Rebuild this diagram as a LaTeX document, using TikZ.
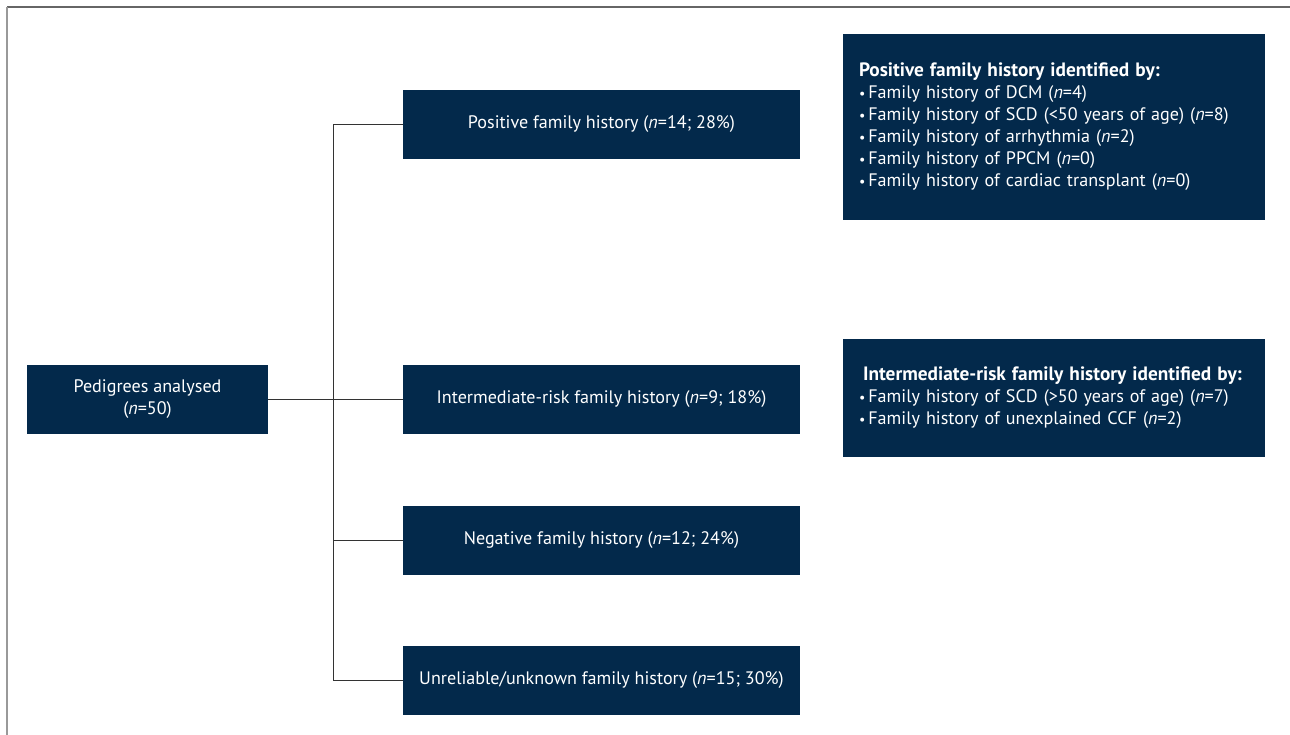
\documentclass[tikz,border=0pt]{standalone}
\usepackage{fontspec}
\setmainfont{PT Sans}
\usepackage{tikz}
\definecolor{navy}{RGB}{3,41,75}
\definecolor{linegray}{RGB}{51,51,51}
\tikzstyle{box}=[fill=navy, text=white, minimum width=7.94cm, minimum height=1.38cm, inner sep=0pt, font=\fontsize{10.3}{12.5}\selectfont]
\tikzstyle{box-start}=[box, minimum width=4.82cm, align=center]
\tikzstyle{box-info}=[fill=navy, text=white, minimum width=8.44cm, text width=7.8cm, align=left, inner xsep=0.32cm, inner ysep=0pt, font=\fontsize{10.3}{12.5}\selectfont]
\tikzstyle{link}=[draw=linegray, line width=0.8pt]
\newcommand{\infohead}[1]{{\fontsize{11}{12.5}\selectfont\textbf{#1}}}
\newcommand{\dotitem}{{\footnotesize\textbullet}\,}

\begin{document}
\begin{tikzpicture}
	 \useasboundingbox (0,0) rectangle (25.8,-14.7);
	 % frame
	 \draw [gray!80!black, line width=0.9pt] (0.14,-0.14) -- (25.8,-0.14);
	 \draw [gray!80, line width=0.9pt] (0.14,-0.14) -- (0.14,-14.7);

	% nodes
	 \node [box-start] (ped) at (2.95,-7.99) {Pedigrees analysed\\(\textit{n}=50)};
	 \node [box] (pos) at (12.03,-2.49) {Positive family history (\textit{n}=14; 28\%)};
	 \node [box] (inter) at (12.03,-7.99) {Intermediate-risk family history (\textit{n}=9; 18\%)};
	 \node [box] (neg) at (12.03,-10.81) {Negative family history (\textit{n}=12; 24\%)};
	 \node [box] (unrel) at (12.03,-13.61) {Unreliable/unknown family history (\textit{n}=15; 30\%)};

	 \node [box-info, minimum height=3.72cm] (posinfo) at (21.08,-2.54) {\infohead{Positive family history identified by:}\\
	   \dotitem Family history of DCM (\textit{n}=4)\\
	   \dotitem Family history of SCD (<50 years of age) (\textit{n}=8)\\
	   \dotitem Family history of arrhythmia (\textit{n}=2)\\
	   \dotitem Family history of PPCM (\textit{n}=0)\\
	   \dotitem Family history of cardiac transplant (\textit{n}=0)};
	 \node [box-info, minimum height=2.36cm] (interinfo) at (21.08,-7.96) {\hspace*{0.08cm}\infohead{Intermediate-risk family history identified by:}\\
	   \dotitem Family history of SCD (>50 years of age) (\textit{n}=7)\\
	   \dotitem Family history of unexplained CCF (\textit{n}=2)};

	 % lines
	 \draw [link] (ped) -- (inter);
	 \draw [link] (pos.west) -- ++(-1.38,0) |- (unrel.west);
	 \draw [link] (neg.west) -- ++(-1.38,0);
\end{tikzpicture}
\end{document}
